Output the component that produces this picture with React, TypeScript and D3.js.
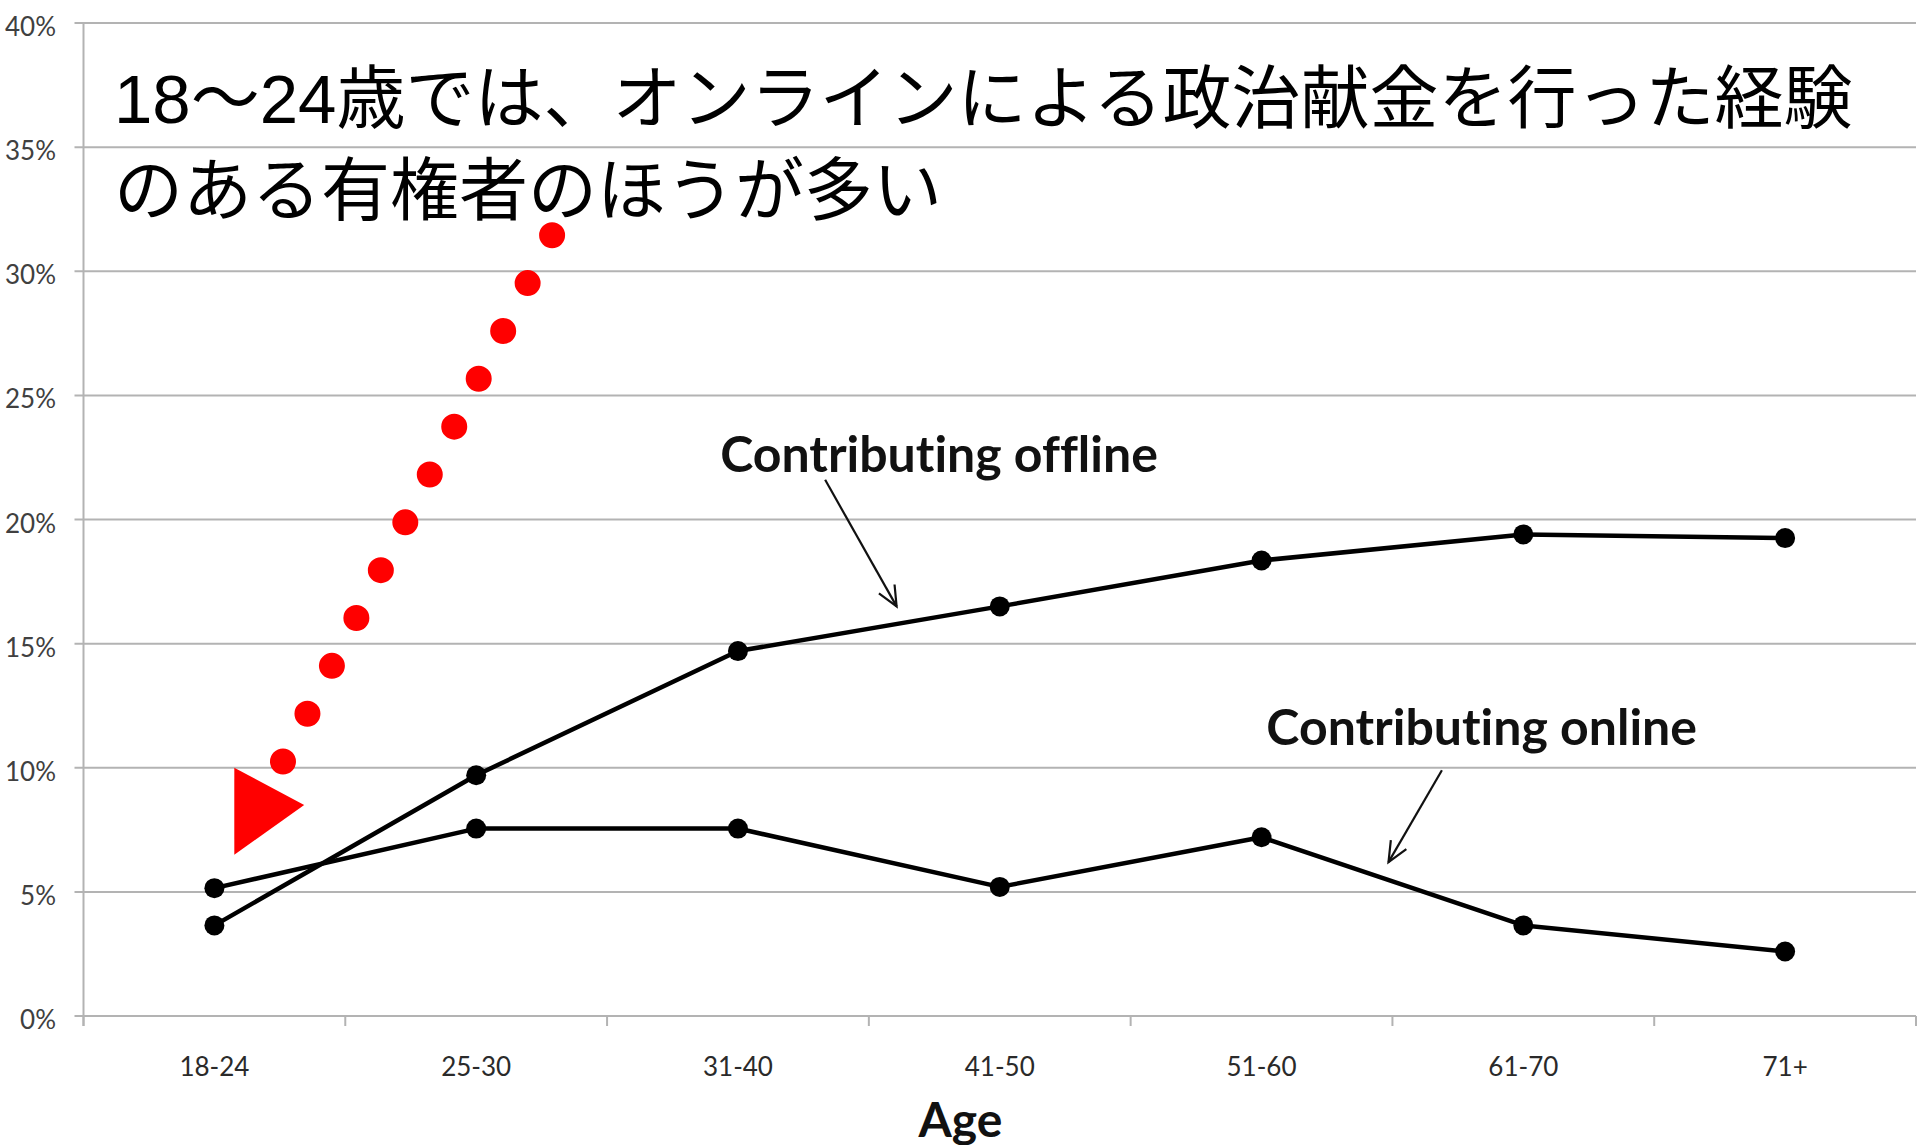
import React from 'react';
import * as d3 from 'd3';

const categories = ['18-24', '25-30', '31-40', '41-50', '51-60', '61-70', '71+'];
const offline = [3.65, 9.7, 14.7, 16.5, 18.35, 19.4, 19.25];
const online = [5.15, 7.55, 7.55, 5.2, 7.2, 3.65, 2.6];
const yTicks = [0, 5, 10, 15, 20, 25, 30, 35, 40];
const titleLines = ['18〜24歳では、オンラインによる政治献金を行った経験', 'のある有権者のほうが多い'];
const seriesLabels = ['Contributing offline', 'Contributing online'];
const axisTitle = 'Age';

// annotation anchors in (band units, percent)
const labelPos = [[3.268, 22.68], [5.341, 11.68]];
const arrowPos = [
  [[2.833, 21.6], [3.106, 16.5]],
  [[5.189, 9.9], [4.985, 6.2]],
];
const dotArrow = [[1.79, 31.45], [0.762, 10.25]];
const dotCount = 12;
const triangle = [[0.576, 10.0], [0.843, 8.5], [0.576, 6.5]];
const axisTitlePos = 3.35;

const W = 1920, H = 1145;
const left = 83.5, right = 1916, top = 23, bottom = 1016;

export default function App() {
  const x = d3.scaleBand().domain(categories).range([left, right]).padding(0);
  const xu = d3.scaleLinear().domain([0, categories.length]).range([left, right]);
  const y = d3.scaleLinear().domain([0, 40]).range([bottom, top]);
  const cx = (c: string) => (x(c) as number) + x.bandwidth() / 2;
  const line = d3.line<number>().x((_, i) => cx(categories[i])).y(d => y(d));

  const arrowHead = (x1: number, y1: number, x2: number, y2: number) => {
    const a = Math.atan2(y2 - y1, x2 - x1);
    const L = 22, s = 0.42;
    const p1 = [x2 - L * Math.cos(a - s), y2 - L * Math.sin(a - s)];
    const p2 = [x2 - L * Math.cos(a + s), y2 - L * Math.sin(a + s)];
    return `M${p1[0]},${p1[1]}L${x2},${y2}L${p2[0]},${p2[1]}`;
  };

  const d0 = [xu(dotArrow[0][0]), y(dotArrow[0][1])];
  const d1 = [xu(dotArrow[1][0]), y(dotArrow[1][1])];
  const dotLen = Math.hypot(d1[0] - d0[0], d1[1] - d0[1]);
  const gap = dotLen / (dotCount - 1);

  const gridColor = '#b3b3b3';
  const labelFont = 'Lato, "Open Sans", sans-serif';
  const noLig = { fontVariantLigatures: 'none' as const, fontFeatureSettings: '"liga" 0' };

  return (
    <svg width={W} height={H} style={{ position: 'absolute', left: 0, top: 0, background: '#fff' }}>
      <rect width={W} height={H} fill="#fff" />
      {yTicks.map(t => (
        <line key={t} x1={left - 9} x2={right} y1={y(t)} y2={y(t)} stroke={gridColor} strokeWidth={2} />
      ))}
      <line x1={left} x2={left} y1={top} y2={bottom + 10} stroke={gridColor} strokeWidth={2} />
      {categories.map(c => (
        <line key={c} x1={x(c) as number} x2={x(c) as number} y1={bottom} y2={bottom + 10} stroke={gridColor} strokeWidth={2} />
      ))}
      <line x1={right} x2={right} y1={bottom} y2={bottom + 10} stroke={gridColor} strokeWidth={2} />
      {yTicks.map(t => (
        <text key={t} x={56} y={y(t) + 3} textAnchor="end" dominantBaseline="central" fontFamily={labelFont} fontSize={26} fill="#404040">{`${t}%`}</text>
      ))}
      {categories.map(c => (
        <text key={c} x={cx(c)} y={1066} textAnchor="middle" dominantBaseline="central" fontFamily={labelFont} fontSize={26} fill="#2a2a2a">{c}</text>
      ))}
      <text x={xu(axisTitlePos)} y={1118} textAnchor="middle" dominantBaseline="central" fontFamily={labelFont} fontWeight="bold" fontSize={48} fill="#111">{axisTitle}</text>

      {[offline, online].map((s, k) => (
        <g key={k}>
          <path d={line(s) as string} fill="none" stroke="#000" strokeWidth={4.5} strokeLinejoin="round" />
          {s.map((v, i) => (
            <circle key={i} cx={cx(categories[i])} cy={y(v)} r={10} fill="#000" />
          ))}
        </g>
      ))}

      {seriesLabels.map((l, k) => (
        <text key={l} x={xu(labelPos[k][0])} y={y(labelPos[k][1])} textAnchor="middle" dominantBaseline="central" fontFamily={labelFont} fontWeight="bold" fontSize={50} fill="#111" style={noLig}>{l}</text>
      ))}
      {arrowPos.map((a, k) => {
        const x1 = xu(a[0][0]), y1 = y(a[0][1]), x2 = xu(a[1][0]), y2 = y(a[1][1]);
        return (
          <g key={k} fill="none" stroke="#111" strokeWidth={2.2}>
            <line x1={x1} y1={y1} x2={x2} y2={y2} />
            <path d={arrowHead(x1, y1, x2, y2)} />
          </g>
        );
      })}

      <line x1={d0[0]} y1={d0[1]} x2={d1[0]} y2={d1[1]} stroke="#ff0000" strokeWidth={26} strokeLinecap="round" strokeDasharray={`0 ${gap}`} />
      <polygon points={triangle.map(p => `${xu(p[0])},${y(p[1])}`).join(' ')} fill="#ff0000" />

      {titleLines.map((t, i) => (
        <text key={i} x={114} y={123 + i * 92} fontFamily={'"Liberation Sans", "Noto Sans CJK JP", sans-serif'} fontSize={69} fill="#000">{t}</text>
      ))}
    </svg>
  );
}
